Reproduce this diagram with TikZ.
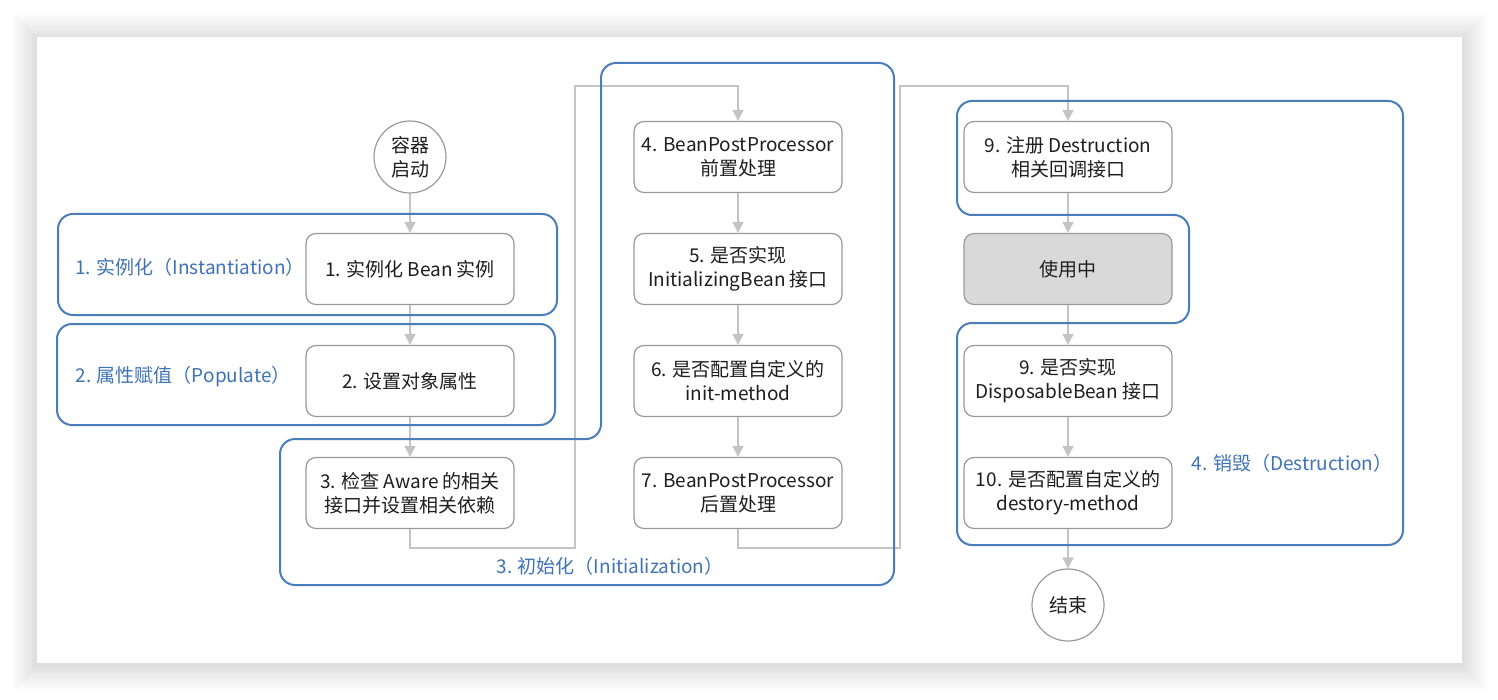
\documentclass[tikz,border=0pt]{standalone}
\usepackage{fontspec}
\setmainfont{Noto Sans CJK SC}
\usetikzlibrary{arrows.meta}
\definecolor{frameblue}{HTML}{4A7EBB}
\definecolor{labelblue}{HTML}{3F73B5}
\definecolor{arrowgray}{HTML}{C4C4C4}
\definecolor{boxgray}{HTML}{9A9A9A}
\definecolor{fillgray}{HTML}{D9D9D9}
\definecolor{txt}{HTML}{1E1E1E}
\begin{document}
\begin{tikzpicture}[x=0.5pt,y=-0.5pt,
  txtfont/.style={font=\fontsize{9.5pt}{12pt}\selectfont},
  stepbox/.style={draw=boxgray, line width=0.6pt, rounded corners=5pt, fill=white,
    minimum width=104pt, minimum height=35.5pt, align=center, inner sep=0pt,
    text=txt, txtfont},
  usebox/.style={stepbox, fill=fillgray},
  endpoint/.style={circle, draw=boxgray, line width=0.6pt, fill=white,
    minimum size=36pt, inner sep=0pt, align=center, text=txt, txtfont},
  conn/.style={draw=arrowgray, line width=0.9pt,
    -{Triangle[length=5.5pt,width=5.5pt]}},
  frame/.style={draw=frameblue, line width=1pt, rounded corners=7.5pt},
  lab/.style={text=labelblue, txtfont, inner sep=0pt}]
\useasboundingbox (0,0) rectangle (1498,700);
% background and card shadow
\fill[white] (0,0) rectangle (1498,700);
\foreach \i in {1,...,16}{
  \fill[black,opacity=0.007] (37-\i*1.6,37-\i*1.6+2) rectangle (1462+\i*1.6,663+\i*1.6+2);
}
\fill[white] (37,37) rectangle (1462,663);

% column A
\node[endpoint] (start) at (410,157) {容器\\启动};
\node[stepbox] (b1) at (410,269) {1. 实例化 Bean 实例};
\node[stepbox] (b2) at (410,381) {2. 设置对象属性};
\node[stepbox] (b3) at (410,493) {3. 检查 Aware 的相关\\接口并设置相关依赖};
% column B
\node[stepbox] (b4) at (738,157) {4. BeanPostProcessor\\前置处理};
\node[stepbox] (b5) at (738,269) {5. 是否实现\\InitializingBean 接口};
\node[stepbox] (b6) at (738,381) {6. 是否配置自定义的\\init-method};
\node[stepbox] (b7) at (738,493) {7. BeanPostProcessor\\后置处理};
% column C
\node[stepbox] (c1) at (1068,157) {9. 注册 Destruction\\相关回调接口};
\node[usebox] (c2) at (1068,269) {使用中};
\node[stepbox] (c3) at (1068,381) {9. 是否实现\\DisposableBean 接口};
\node[stepbox] (c4) at (1068,493) {10. 是否配置自定义的\\destory-method};
\node[endpoint] (stop) at (1068,605) {结束};

% connectors
\coordinate (k1) at (410,548);
\coordinate (k2) at (575,86);
\coordinate (k3) at (738,548);
\coordinate (k4) at (900,86);
\draw[conn] (start) -- (b1);
\draw[conn] (b1) -- (b2);
\draw[conn] (b2) -- (b3);
\draw[conn] (b3.south) -- (k1) -| (k2) -| (b4.north);
\draw[conn] (b4) -- (b5);
\draw[conn] (b5) -- (b6);
\draw[conn] (b6) -- (b7);
\draw[conn] (b7.south) -- (k3) -| (k4) -| (c1.north);
\draw[conn] (c1) -- (c2);
\draw[conn] (c2) -- (c3);
\draw[conn] (c3) -- (c4);
\draw[conn] (c4) -- (stop);

% phase frames
\draw[frame] (58,214) rectangle (557,315);
\draw[frame] (57,324) rectangle (555,425);
\draw[frame] (280,439) -- (601,439) -- (601,63) -- (894,63) -- (894,585) -- (280,585) -- cycle;
\draw[frame] (957,101) -- (1403,101) -- (1403,545) -- (957,545) -- (957,323) -- (1189,323) -- (1189,215) -- (957,215) -- cycle;

% phase labels
\node[lab] (l1) at (190,267) {1. 实例化（Instantiation）};
\node[lab] (l2) at (183,377) {2. 属性赋值（Populate）};
\node[lab] (l3) at (610,566) {3. 初始化（Initialization）};
\node[lab] (l4) at (1292,463) {4. 销毁（Destruction）};
\end{tikzpicture}
\end{document}
